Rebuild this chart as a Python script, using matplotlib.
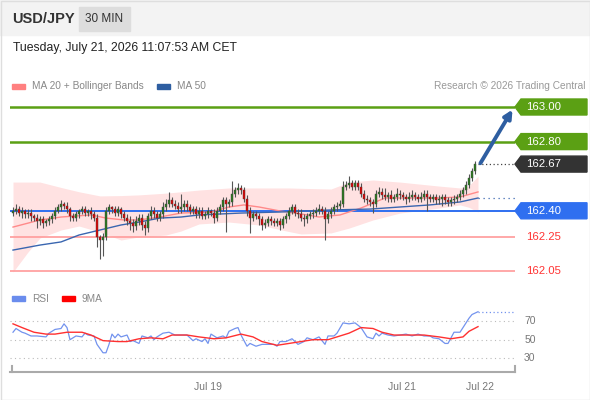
import numpy as np
import matplotlib.pyplot as plt
from matplotlib.patches import Polygon, Rectangle

plt.rcParams['font.family'] = ['Liberation Sans', 'DejaVu Sans']

# prices are kept in pips above BASE
BASE = 162.00
first_open = 39

closes = [40, 41, 39, 40, 38, 39, 37, 36, 34, 35,
          33, 34, 35, 37, 40, 42, 44, 43, 41, 37,
          36, 38, 40, 41, 39, 40, 38, 36, 25, 23,
          25, 40, 42, 41, 39, 41, 38, 36, 34, 33,
          31, 34, 36, 32, 30, 37, 40, 38, 36, 38,
          42, 44, 46, 44, 43, 41, 42, 44, 42, 40,
          41, 38, 40, 37, 38, 40, 39, 36, 40, 42,
          46, 44, 45, 50, 52, 53, 52, 47, 40, 36,
          38, 37, 35, 32, 33, 35, 34, 33, 34, 32,
          35, 37, 40, 42, 39, 38, 36, 35, 37, 38,
          39, 40, 41, 40, 35, 38, 40, 42, 43, 44,
          54, 55, 56, 54, 56, 54, 50, 47, 46, 45,
          44, 50, 51, 49, 48, 49, 47, 48, 50, 49,
          48, 47, 48, 49, 48, 47, 48, 50, 48, 47,
          48, 46, 47, 48, 46, 45, 46, 47, 48, 50,
          52, 55, 59, 63, 67]

wick_up = [2, 3, 2, 2, 1, 2, 2, 1, 2, 2,
           2, 1, 2, 2, 2, 2, 2, 1, 2, 1,
           2, 2, 1, 2, 2, 1, 2, 2, 2, 1,
           2, 2, 2, 1, 2, 2, 1, 2, 2, 3,
           2, 3, 2, 2, 2, 2, 3, 2, 2, 2,
           3, 3, 5, 2, 2, 2, 8, 2, 2, 2,
           2, 2, 2, 2, 2, 2, 1, 2, 2, 2,
           2, 2, 2, 7, 2, 3, 2, 2, 2, 2,
           2, 2, 2, 2, 2, 2, 2, 2, 2, 2,
           2, 2, 2, 2, 2, 2, 3, 2, 2, 2,
           2, 2, 3, 2, 2, 2, 2, 2, 2, 2,
           3, 2, 4, 2, 2, 2, 2, 2, 2, 2,
           2, 2, 3, 2, 4, 2, 3, 2, 3, 2,
           2, 2, 3, 3, 2, 2, 3, 2, 2, 2,
           2, 2, 2, 2, 2, 2, 2, 2, 2, 2,
           2, 2, 2, 2, 2]

wick_dn = [2, 2, 2, 3, 2, 2, 3, 2, 4, 2,
           3, 2, 2, 2, 2, 1, 2, 2, 2, 3,
           2, 2, 2, 2, 2, 2, 3, 2, 6, 11,
           9, 2, 2, 2, 2, 2, 2, 2, 2, 4,
           3, 2, 2, 3, 4, 2, 2, 2, 2, 2,
           2, 2, 2, 2, 2, 2, 2, 2, 2, 2,
           2, 2, 2, 2, 2, 2, 2, 3, 2, 2,
           2, 16, 2, 2, 2, 2, 2, 2, 3, 9,
           2, 2, 3, 3, 2, 2, 2, 2, 2, 3,
           2, 2, 2, 2, 2, 2, 2, 4, 2, 2,
           2, 2, 2, 2, 12, 2, 2, 2, 2, 2,
           2, 2, 2, 2, 2, 2, 2, 2, 2, 2,
           5, 2, 2, 2, 2, 3, 2, 2, 2, 2,
           2, 3, 2, 2, 2, 2, 2, 2, 8, 2,
           2, 2, 2, 4, 2, 2, 2, 2, 2, 2,
           2, 2, 2, 2, 2]

# indicator lines (bar index, pips)
ma20_bar = [0, 9, 16, 26, 31, 37, 42, 49, 56, 66, 72, 77, 82, 89, 96, 102,
            109, 116, 120, 124, 132, 142, 149, 155]
ma20 = [30.6, 34.7, 36.4, 37.6, 35.8, 34.7, 34.7, 36.4, 38.7, 39.3, 42.2,
        43.4, 42.2, 39.9, 38.2, 36.4, 37.6, 41.6, 44.5, 47.4, 47.4, 47.4,
        48.0, 50.9]

bb_bar = [0, 5, 9, 16, 22, 29, 36, 42, 51, 56, 62, 72, 82, 92, 96, 106,
          112, 120, 129, 142, 149, 152, 155]
bb_upper = [56.6, 56.6, 56.6, 53.5, 51.0, 48.6, 48.8, 49.2, 50.2, 51.0,
            52.0, 53.2, 53.2, 53.2, 53.0, 52.6, 56.6, 57.8, 56.6, 54.3,
            53.2, 54.5, 60.0]
bb_lower = [4.6, 16.2, 24.3, 28.9, 31.2, 27.7, 23.1, 24.9, 26.0, 28.3,
            32.4, 33.5, 31.8, 28.0, 26.6, 27.2, 30.0, 34.7, 38.7, 41.6,
            43.4, 42.0, 39.3]

ma50_bar = [0, 9, 16, 22, 29, 36, 42, 49, 56, 62, 76, 89, 106, 119, 129,
            139, 149, 155]
ma50 = [17.3, 20.2, 22.0, 26.0, 28.9, 31.8, 33.5, 35.8, 36.4, 37.6, 38.7,
        39.3, 40.5, 41.0, 42.2, 43.4, 45.1, 47.4]

rsi_bar = [0, 1, 3, 4, 6, 8, 11, 12, 14, 16,
           17, 18, 19, 21, 23, 24, 25, 27, 28, 30,
           31, 32, 33, 34, 35, 36, 38, 39, 40, 42,
           43, 45, 46, 47, 48, 50, 52, 54, 56, 58,
           59, 60, 61, 63, 64, 65, 66, 68, 70, 71,
           72, 74, 75, 76, 78, 79, 81, 83, 85, 87,
           88, 89, 91, 93, 95, 97, 98, 100, 102, 104,
           105, 107, 108, 110, 112, 114, 116, 118, 120, 121,
           122, 123, 125, 127, 129, 131, 133, 135, 137, 139,
           140, 142, 144, 145, 146, 147, 149, 150, 152, 153,
           155]
rsi = [58, 62, 58, 57, 54, 54, 53, 57, 61, 62,
       67, 63, 50, 54, 53, 57, 55, 54, 45, 36,
       36, 45, 56, 52, 56, 53, 55, 48, 49, 46,
       54, 52, 54, 50, 53, 57, 58, 55, 55, 55,
       52, 49, 51, 48, 51, 46, 56, 52, 54, 52,
       59, 62, 63, 55, 43, 46, 43, 45, 45, 45,
       43, 48, 48, 51, 45, 48, 52, 50, 53, 45,
       54, 54, 57, 68, 67, 68, 63, 53, 51, 57,
       54, 57, 55, 54, 55, 56, 54, 56, 54, 54,
       52, 51, 46, 46, 52, 58, 58, 63, 73, 77,
       80]

rsi_ma_bar = [0, 3, 7, 11, 14, 18, 23, 26, 30, 35,
              38, 42, 46, 50, 53, 58, 62, 67, 71, 76,
              80, 83, 88, 92, 96, 100, 105, 108, 112, 116,
              120, 123, 127, 132, 137, 142, 146, 150, 152, 155]
rsi_ma = [67, 63, 58, 56, 56, 58, 58, 55, 49, 48,
          48, 51, 52, 51, 55, 55, 53, 51, 52, 56,
          53, 48, 44, 46, 48, 50, 50, 53, 57, 63,
          62, 58, 55, 55, 55, 53, 51, 53, 59, 64]

resistances = [163.00, 162.80]
pivot = 162.40
supports = [162.25, 162.05]
rsi_levels = [30, 50, 70]
date_ticks = [65, 129.7, 155.7]
date_labels = ['Jul 19', 'Jul 21', 'Jul 22']

W, H = 590, 400
fig = plt.figure(figsize=(W / 100, H / 100), dpi=100)


def box(left, top, right, bottom):
    return [left / W, 1 - bottom / H, (right - left) / W, (bottom - top) / H]


# header band and frame
fig.patches.append(Rectangle((0, 1 - 35 / H), 1, 35 / H, transform=fig.transFigure,
                             color='#f3f3f3', zorder=0))
fig.patches.append(Rectangle((79 / W, 1 - 31 / H), 51 / W, 24 / H, transform=fig.transFigure,
                             color='#dddddd', zorder=1))
fig.patches.append(Rectangle((0.5 / W, 0.5 / H), 1 - 1 / W, 1 - 1 / H, transform=fig.transFigure,
                             fill=False, edgecolor='#dedede', lw=1, zorder=5))
fig.text(12 / W, 1 - 19 / H, 'USD/JPY', fontsize=10.5, fontweight='bold', color='#333333', va='center')
fig.text(104.5 / W, 1 - 19 / H, '30 MIN', fontsize=8.5, color='#333333', va='center', ha='center')
fig.text(13 / W, 1 - 48 / H, 'Tuesday, July 21, 2026 11:07:53 AM CET', fontsize=8.8,
         color='#222222', va='center')


# legends
def legend_item(x, y, color, label):
    fig.patches.append(Rectangle((x / W, 1 - (y + 2.5) / H), 13 / W, 5 / H,
                                 transform=fig.transFigure, color=color))
    fig.text((x + 20) / W, 1 - y / H, label, fontsize=7.3, color='#888888', va='center')


legend_item(12, 86, '#ff8080', 'MA 20 + Bollinger Bands')
legend_item(157, 86, '#2e5ea1', 'MA 50')
fig.text(586 / W, 1 - 86 / H, 'Research \u00a9 2026 Trading Central', fontsize=7.3,
         color='#999999', va='center', ha='right')
legend_item(12, 298.5, '#6a8ced', 'RSI')
legend_item(62, 298.5, '#ff0000', '9MA')

# price panel
ax = fig.add_axes(box(10, 95, 515, 282))
x_left, x_right = -1, 167.33
y_top = 163.0 + 12 / 173
ax.set_xlim(x_left, x_right)
ax.set_ylim(y_top - 187 / 173, y_top)
ax.axis('off')

c = np.array(closes, dtype=float)
o = np.r_[first_open, c[:-1]]
hi = np.maximum(o, c) + np.array(wick_up)
lo = np.minimum(o, c) - np.array(wick_dn)
bars = np.arange(len(c))

ax.fill_between(bb_bar, BASE + np.array(bb_lower) / 100, BASE + np.array(bb_upper) / 100,
                color='#ffe2e2', lw=0, zorder=1)

for lv in resistances:
    ax.axhline(lv, color='#5ba014', lw=1.8, zorder=2)
ax.axhline(pivot, color='#2f6ff0', lw=1.4, zorder=2)
for lv in supports:
    ax.axhline(lv, color='#ff9a9a', lw=1.2, zorder=2)

ax.plot(ma20_bar, BASE + np.array(ma20) / 100, color='#ff8a8a', lw=1, zorder=3)
ax.plot(ma50_bar, BASE + np.array(ma50) / 100, color='#3a66b0', lw=1, zorder=3)

ax.vlines(bars, BASE + lo / 100, BASE + hi / 100, color='#555555', lw=0.8, zorder=4)
colors = np.where(c >= o, '#2a7a1e', '#e00000')
ax.bar(bars, np.maximum(np.abs(c - o), 0.5) / 100, bottom=BASE + np.minimum(o, c) / 100,
       width=0.78, color=colors, edgecolor='#444444', linewidth=0.3, zorder=5)

last = BASE + c[-1] / 100
ax.hlines(last, len(c), x_right, colors='#444444', linestyles=(0, (1, 2)), lw=0.9)
ax.hlines(BASE + ma50[-1] / 100, ma50_bar[-1], x_right, colors='#3a66b0',
          linestyles=(0, (1, 3)), lw=0.9)

ax.annotate('', xy=(len(c) + 11.5, resistances[0] - 0.015), xytext=(len(c) + 0.8, last + 0.005),
            arrowprops=dict(arrowstyle='-|>', color='#2e5ea1', lw=2.8, mutation_scale=12,
                            shrinkA=0, shrinkB=0),
            annotation_clip=False, zorder=6)

# right-hand price tags
to_fig = ax.transData + fig.transFigure.inverted()


def tag(level, color, boxed=True):
    yf = to_fig.transform((0, level))[1]
    if boxed:
        pts = [(515 / W, yf), (521 / W, yf + 8 / H), (587 / W, yf + 8 / H),
               (587 / W, yf - 8 / H), (521 / W, yf - 8 / H)]
        fig.patches.append(Polygon(pts, closed=True, transform=fig.transFigure,
                                   color=color, zorder=3))
        fig.text(526 / W, yf, f'{level:.2f}', fontsize=8.2, color='white', va='center', zorder=4)
    else:
        fig.text(526 / W, yf, f'{level:.2f}', fontsize=8.2, color=color, va='center')


for lv in resistances:
    tag(lv, '#5ba014')
tag(round(last, 2), '#333333')
tag(pivot, '#2f6ff0')
for lv in supports:
    tag(lv, '#ff3333', boxed=False)

# RSI panel
ar = fig.add_axes(box(10, 305, 515, 372))
ar.set_xlim(x_left, x_right)
ar.set_ylim(50 - 32.3 / 0.933, 50 + 34.7 / 0.933)
ar.hlines(rsi_levels, x_left, x_right, colors='#bbbbbb', linestyles=(0, (1, 3)), lw=0.8)
for lv in rsi_levels:
    ar.text(1.018, lv, str(lv), transform=ar.get_yaxis_transform(), fontsize=7.5,
            color='#777777', va='center')
ar.plot(rsi_bar, rsi, color='#7393ee', lw=0.9)
ar.plot(rsi_ma_bar, rsi_ma, color='#ff3030', lw=1)
ar.hlines(rsi[-1], rsi_bar[-1], x_right, colors='#7393ee', linestyles=(0, (1, 2)), lw=0.9)

for side in ['left', 'right', 'top']:
    ar.spines[side].set_visible(False)
ar.spines['bottom'].set_color('#aaaaaa')
ar.spines['bottom'].set_linewidth(1.5)
ar.set_yticks([])
ar.set_xticks(date_ticks)
ar.set_xticklabels(date_labels)
ar.tick_params(axis='x', length=0, pad=7, labelsize=7.5, labelcolor='#777777')
for xe in [0.004, 1.0]:
    ar.plot([xe, xe], [0, 0.09], transform=ar.transAxes, color='#aaaaaa', lw=1.5, clip_on=False)

fig.savefig('out.png', dpi=100)
